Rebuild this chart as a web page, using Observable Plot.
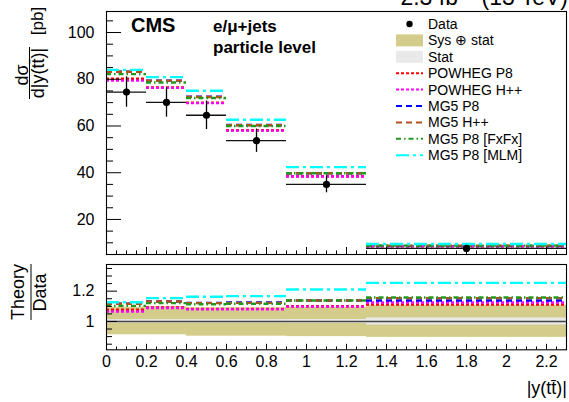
<!DOCTYPE html>
<html><head><meta charset="utf-8">
<script src="https://cdn.jsdelivr.net/npm/d3@7"></script>
<script src="https://cdn.jsdelivr.net/npm/@observablehq/plot@0.6"></script>
<style>
html,body{margin:0;padding:0;background:#fff;}
#chart{position:relative;width:569px;height:402px;overflow:hidden;font-family:"Liberation Sans",Arial,Helvetica,sans-serif;}
#chart svg{position:absolute;left:0;}
</style></head>
<body><div id="chart"></div>
<script>
// ---------------- data ----------------
const binEdges = [0, 0.2, 0.4, 0.6, 0.9, 1.3, 2.3];
const dataValues = [74.5, 70.1, 64.6, 53.7, 35.0, 7.6];
const dataErrors = [6.5, 6.3, 6.1, 5.0, 3.6, 0.8];

const modelNames = ["POWHEG P8", "POWHEG H++", "MG5 P8", "MG5 H++", "MG5 P8 [FxFx]", "MG5 P8 [MLM]"];
// cross sections [pb]
const xsPowhegP8  = [80.2, 76.5, 70.0, 58.2, 38.5, 8.5];
const xsPowhegHpp = [79.4, 76.3, 69.8, 58.0, 38.4, 8.6];
const xsMg5P8     = [83.2, 79.4, 72.5, 60.4, 39.8, 8.6];
const xsMg5Hpp    = [83.2, 79.4, 72.4, 60.3, 39.8, 8.8];
const xsFxFx      = [82.2, 78.6, 72.0, 60.0, 39.8, 8.8];
const xsMlm       = [84.0, 80.9, 75.1, 62.7, 42.4, 9.5];
// Theory / Data
const ratioPowhegP8  = [1.077, 1.092, 1.083, 1.083, 1.100, 1.112];
const ratioPowhegHpp = [1.066, 1.089, 1.080, 1.080, 1.098, 1.125];
const ratioMg5P8     = [1.117, 1.132, 1.123, 1.125, 1.138, 1.138];
const ratioMg5Hpp    = [1.117, 1.132, 1.121, 1.123, 1.138, 1.154];
const ratioFxFx      = [1.103, 1.121, 1.114, 1.117, 1.138, 1.158];
const ratioMlm       = [1.127, 1.154, 1.163, 1.167, 1.211, 1.255];
// uncertainty bands (ratio)
const sysLow   = [0.912, 0.912, 0.903, 0.903, 0.900, 0.895];
const sysHigh  = [1.094, 1.099, 1.090, 1.090, 1.094, 1.105];
const statLow  = [0.988, 0.988, 0.988, 0.988, 0.987, 0.977];
const statHigh = [1.012, 1.012, 1.012, 1.012, 1.013, 1.023];

// ticks
const xTickValues = [0, 0.2, 0.4, 0.6, 0.8, 1, 1.2, 1.4, 1.6, 1.8, 2, 2.2];
const xTickLabels = ["0", "0.2", "0.4", "0.6", "0.8", "1", "1.2", "1.4", "1.6", "1.8", "2", "2.2"];
const yTickValuesTop = [20, 40, 60, 80, 100];
const yTickLabelsTop = ["20", "40", "60", "80", "100"];
const yTickValuesRatio = [1, 1.2];
const yTickLabelsRatio = ["1", "1.2"];

const legendLabels = ["Data", "Sys \u2295 stat", "Stat"].concat(modelNames);

// ---------------- styles ----------------
const FONT = '"Liberation Sans", Arial, Helvetica, sans-serif';
const modelStyles = {
  "POWHEG P8":     {stroke: "#ff0000", dash: "3,2"},
  "POWHEG H++":    {stroke: "#ff00ff", dash: "3,2"},
  "MG5 P8":        {stroke: "#0000ff", dash: "6,4"},
  "MG5 H++":       {stroke: "#b4501e", dash: "6,4"},
  "MG5 P8 [FxFx]": {stroke: "#1f9a1f", dash: "5,3,1.5,3"},
  "MG5 P8 [MLM]":  {stroke: "#00ffff", dash: "13,4,3,4"}
};
const sysColor = "#d4cc8a";
const statColor = "#e9e9e9";

// ---------------- rows ----------------
const xsByModel = [xsPowhegP8, xsPowhegHpp, xsMg5P8, xsMg5Hpp, xsFxFx, xsMlm];
const ratioByModel = [ratioPowhegP8, ratioPowhegHpp, ratioMg5P8, ratioMg5Hpp, ratioFxFx, ratioMlm];
const bins = dataValues.map((_, i) => ({x1: binEdges[i], x2: binEdges[i + 1], c: (binEdges[i] + binEdges[i + 1]) / 2}));
const dataRows = dataValues.map((v, i) => ({...bins[i], v, lo: v - dataErrors[i], hi: v + dataErrors[i]}));
const bandRows = bins.map((b, i) => ({...b, sLo: sysLow[i], sHi: sysHigh[i], tLo: statLow[i], tHi: statHigh[i]}));
const modelRows = (arrs, name, k) => arrs[k].map((v, i) => ({...bins[i], v, model: name}));

const W = 569;
const xDomain = [0, 2.3];
const marginLeft = 106, marginRight = 3;
const frameW = W - marginLeft - marginRight;
const xMinor = d3.range(0, 2.3001, 0.05).map(d => +d.toFixed(2)).filter(d => !xTickValues.some(t => Math.abs(t - d) < 1e-6));

const plotStyle = {fontFamily: FONT, fontSize: "16px", color: "black", background: "transparent", overflow: "visible"};

// ---------------- top panel ----------------
const topH = 258, topMT = 11, topMB = 4;
const topFrameH = topH - topMT - topMB;
const yMinorTop = d3.range(5, 109, 5).filter(d => !yTickValuesTop.includes(d));
const topMarks = [];
modelNames.forEach((name, k) => {
  const s = modelStyles[name];
  topMarks.push(Plot.ruleY(modelRows(xsByModel, name, k), {y: "v", x1: "x1", x2: "x2", stroke: s.stroke, strokeDasharray: s.dash, strokeWidth: 2.4}));
});
topMarks.push(
  Plot.ruleX(dataRows, {x: "c", y1: "lo", y2: "hi", stroke: "black", strokeWidth: 1.3}),
  Plot.ruleY(dataRows, {y: "v", x1: "x1", x2: "x2", stroke: "#111", strokeWidth: 1.3}),
  Plot.dot(dataRows, {x: "c", y: "v", r: 3.6, fill: "black", stroke: "none"}),
  Plot.tickX(xTickValues, {x: d => d, insetTop: topFrameH - 7, stroke: "black"}),
  Plot.tickX(xMinor, {x: d => d, insetTop: topFrameH - 3.5, stroke: "black"}),
  Plot.tickY(yTickValuesTop, {y: d => d, insetRight: frameW - 15, stroke: "black"}),
  Plot.tickY(yMinorTop, {y: d => d, insetRight: frameW - 7, stroke: "black"}),
  Plot.axisY(yTickValuesTop, {tickSize: 0, tickPadding: 12, label: null, fontSize: 16,
    tickFormat: d => yTickLabelsTop[yTickValuesTop.indexOf(d)]}),
  Plot.frame({stroke: "black", strokeWidth: 1.1})
);
const topPlot = Plot.plot({
  width: W, height: topH, marginLeft, marginRight, marginTop: topMT, marginBottom: topMB,
  style: plotStyle,
  x: {domain: xDomain, axis: null},
  y: {domain: [5, 109]},
  marks: topMarks
});
topPlot.style.top = "0px";
document.getElementById("chart").appendChild(topPlot);

// ---------------- ratio panel ----------------
const botTop = 258, botH = 402 - botTop, botMT = 6, botMB = botH - (349.3 - botTop);
const botFrameH = botH - botMT - botMB;
const yMinorRatio = d3.range(0.85, 1.375, 0.05).map(d => +d.toFixed(2)).filter(d => !yTickValuesRatio.some(t => Math.abs(t - d) < 1e-6));
const botMarks = [
  Plot.rect(bandRows, {x1: "x1", x2: "x2", y1: "sLo", y2: "sHi", fill: sysColor}),
  Plot.rect(bandRows, {x1: "x1", x2: "x2", y1: "tLo", y2: "tHi", fill: statColor}),
  Plot.ruleY([1], {stroke: "#444", strokeWidth: 1.4})
];
modelNames.forEach((name, k) => {
  const s = modelStyles[name];
  botMarks.push(Plot.ruleY(modelRows(ratioByModel, name, k), {y: "v", x1: "x1", x2: "x2", stroke: s.stroke, strokeDasharray: s.dash, strokeWidth: 2.4}));
});
botMarks.push(
  Plot.tickX(xTickValues, {x: d => d, insetTop: botFrameH - 5.5, stroke: "black"}),
  Plot.tickX(xMinor, {x: d => d, insetTop: botFrameH - 2.8, stroke: "black"}),
  Plot.tickY(yTickValuesRatio, {y: d => d, insetRight: frameW - 11, stroke: "black"}),
  Plot.tickY(yMinorRatio, {y: d => d, insetRight: frameW - 6, stroke: "black"}),
  Plot.axisY(yTickValuesRatio, {tickSize: 0, tickPadding: 12, label: null, fontSize: 16,
    tickFormat: d => yTickLabelsRatio[yTickValuesRatio.findIndex(t => Math.abs(t - d) < 1e-9)]}),
  Plot.axisX(xTickValues, {tickSize: 0, tickPadding: 6, label: null, fontSize: 16,
    tickFormat: d => xTickLabels[xTickValues.findIndex(t => Math.abs(t - d) < 1e-9)]}),
  Plot.frame({stroke: "black", strokeWidth: 1.1})
);
const botPlot = Plot.plot({
  width: W, height: botH, marginLeft, marginRight, marginTop: botMT, marginBottom: botMB,
  style: plotStyle,
  x: {domain: xDomain},
  y: {domain: [0.813, 1.376]},
  marks: botMarks
});
botPlot.style.top = botTop + "px";
document.getElementById("chart").appendChild(botPlot);

// ---------------- overlay texts & legend ----------------
const ov = d3.select("#chart").append("svg")
  .attr("width", W).attr("height", 402)
  .style("top", "0px").style("font-family", FONT).style("pointer-events", "none");

// lumi (clipped at the top edge, as in the original)
const lumi = ov.append("text").attr("x", 568).attr("y", 5.3).attr("text-anchor", "end")
  .style("font-size", "23px").attr("fill", "black");
lumi.append("tspan").text("2.3 fb");
lumi.append("tspan").attr("dy", -9).style("font-size", "15px").text("\u22121");
lumi.append("tspan").attr("dy", 9).text(" (13 TeV)");

ov.append("text").attr("x", 131).attr("y", 32.3).style("font-size", "20px").attr("font-weight", "bold").text("CMS");
ov.append("text").attr("x", 213).attr("y", 31.7).style("font-size", "17px").attr("font-weight", "bold").text("e/\u03bc+jets");
ov.append("text").attr("x", 213).attr("y", 53.3).style("font-size", "17px").attr("font-weight", "bold").text("particle level");

// legend
const legY0 = 24, legStep = 16.4, swX1 = 396, swX2 = 423, txtX = 428;
legendLabels.forEach((lab, i) => {
  const y = legY0 + i * legStep;
  if (i === 0) {
    ov.append("circle").attr("cx", (swX1 + swX2) / 2).attr("cy", y).attr("r", 3.2).attr("fill", "black");
  } else if (i === 1 || i === 2) {
    ov.append("rect").attr("x", swX1).attr("y", y - 6).attr("width", swX2 - swX1).attr("height", 12)
      .attr("fill", i === 1 ? sysColor : statColor);
  } else {
    const s = modelStyles[lab];
    ov.append("line").attr("x1", swX1).attr("x2", swX2).attr("y1", y).attr("y2", y)
      .attr("stroke", s.stroke).attr("stroke-width", 2).attr("stroke-dasharray", s.dash);
  }
  ov.append("text").attr("x", txtX).attr("y", y + 5).style("font-size", "14px").text(lab);
});

// top y title (rotated fraction)
const gT = ov.append("g");
gT.append("text").attr("transform", "translate(27.5,75) rotate(-90)").attr("text-anchor", "middle").style("font-size", "18px").text("d\u03c3");
gT.append("line").attr("x1", 29.5).attr("x2", 29.5).attr("y1", 47).attr("y2", 99).attr("stroke", "black").attr("stroke-width", 1);
gT.append("text").attr("transform", "translate(43.5,73) rotate(-90)").attr("text-anchor", "middle").style("font-size", "18px").text("d|y(tt\u0304)|");
gT.append("text").attr("transform", "translate(43,21) rotate(-90)").attr("text-anchor", "middle").style("font-size", "17px").text("[pb]");

// ratio y title
const gR = ov.append("g");
gR.append("text").attr("transform", "translate(24.3,292) rotate(-90)").attr("text-anchor", "middle").style("font-size", "18px").text("Theory");
gR.append("line").attr("x1", 31).attr("x2", 31).attr("y1", 264).attr("y2", 320).attr("stroke", "black").attr("stroke-width", 1);
gR.append("text").attr("transform", "translate(46.2,292.5) rotate(-90)").attr("text-anchor", "middle").style("font-size", "18px").text("Data");

// x title
ov.append("text").attr("x", 567).attr("y", 394).attr("text-anchor", "end").style("font-size", "18px").text("|y(tt\u0304)|");
</script>
</body></html>
